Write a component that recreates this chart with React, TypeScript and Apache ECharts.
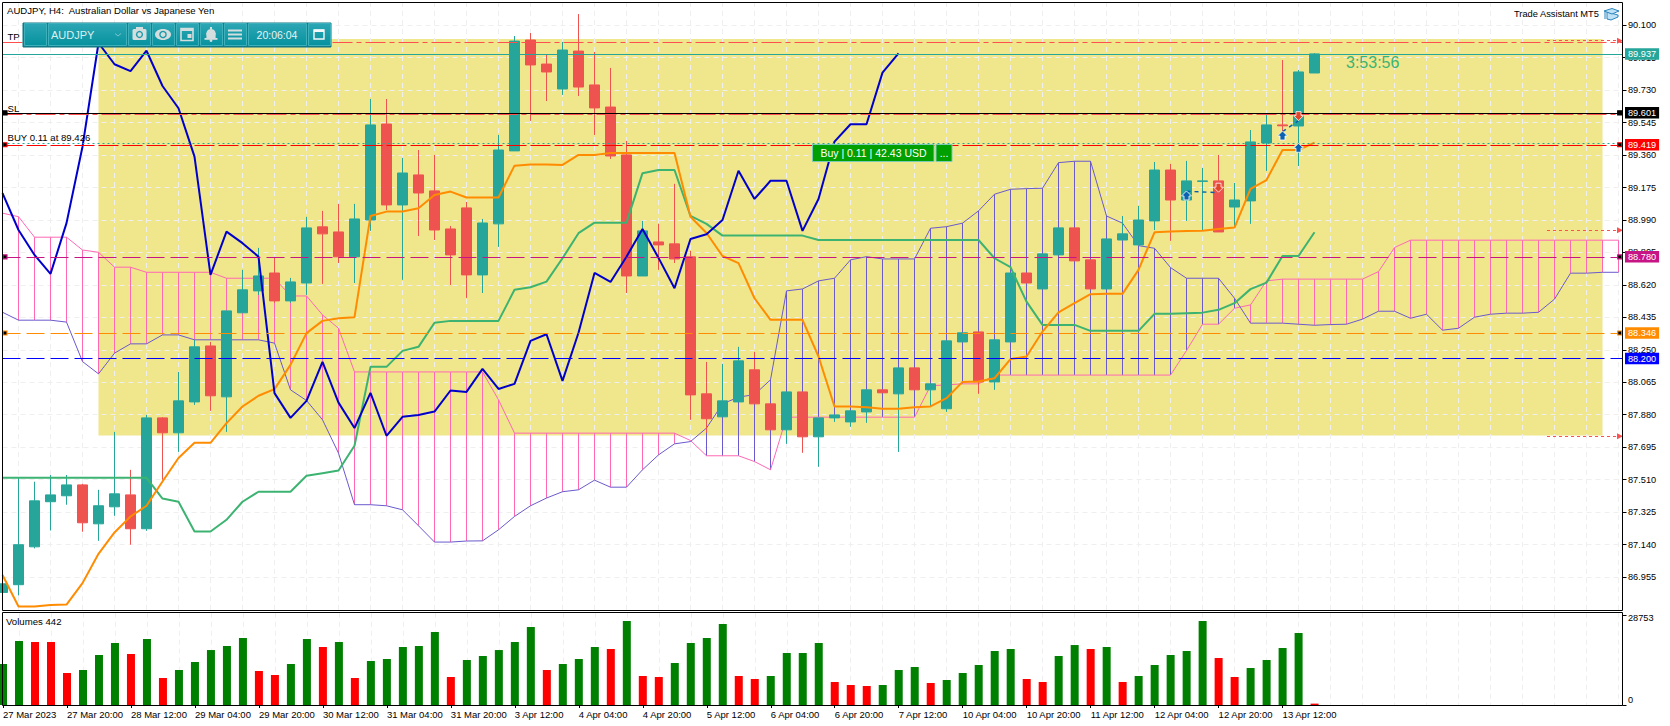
import React, { useEffect, useRef } from "react";
import * as echarts from "echarts";

const FONT = '"Liberation Sans", Arial, sans-serif';
const BARS = 102;

const tickLabels = ["27 Mar 2023","27 Mar 20:00","28 Mar 12:00","29 Mar 04:00","29 Mar 20:00","30 Mar 12:00","31 Mar 04:00","31 Mar 20:00","3 Apr 12:00","4 Apr 04:00","4 Apr 20:00","5 Apr 12:00","6 Apr 04:00","6 Apr 20:00","7 Apr 12:00","10 Apr 04:00","10 Apr 20:00","11 Apr 12:00","12 Apr 04:00","12 Apr 20:00","13 Apr 12:00"];
const priceTicks = [86.955,87.14,87.325,87.51,87.695,87.88,88.065,88.25,88.435,88.62,88.805,88.99,89.175,89.36,89.545,89.73,89.915,90.1];

// open, close, low, high
const candles = [
[86.867,86.916,86.865,86.916],[86.911,87.139,86.85,87.52],[87.127,87.389,87.118,87.498],[87.384,87.423,87.22,87.536],[87.418,87.48,87.367,87.536],
[87.48,87.264,87.213,87.486],[87.258,87.361,87.161,87.452],[87.355,87.429,87.304,87.782],[87.423,87.23,87.139,87.566],[87.23,87.862,87.218,87.879],
[87.862,87.777,87.509,87.866],[87.777,87.959,87.668,88.124],[87.953,88.267,87.936,88.307],[88.272,87.988,87.902,88.295],[87.982,88.472,87.782,88.472],
[88.461,88.592,88.461,88.706],[88.586,88.671,88.563,88.831],[88.688,88.529,88.518,88.78],[88.529,88.637,88.518,88.66],[88.631,88.945,88.563,89.008],
[88.951,88.911,88.626,89.042],[88.922,88.78,88.745,89.082],[88.78,88.996,88.631,89.082],[88.99,89.532,88.928,89.68],[89.537,89.076,89.047,89.68],
[89.076,89.258,88.649,89.344],[89.247,89.144,88.899,89.389],[89.156,88.933,88.876,89.361],[88.939,88.791,88.62,88.956],[89.059,88.677,88.546,89.093],
[88.677,88.973,88.574,88.996],[88.968,89.389,88.837,89.475],[89.384,90.01,89.384,90.039],[90.016,89.874,89.555,90.056],[89.879,89.834,89.668,89.931],
[89.737,89.959,89.703,90.005],[89.953,89.748,89.697,90.164],[89.76,89.629,89.475,89.948],[89.634,89.355,89.338,89.857],[89.361,88.671,88.574,89.441],
[88.671,88.928,88.671,88.985],[88.865,88.848,88.706,88.968],[88.854,88.768,88.745,89.196],[88.78,87.993,87.851,88.814],[87.999,87.857,87.777,88.181],
[87.868,87.959,87.868,88.17],[87.953,88.187,87.953,88.267],[88.136,87.942,87.942,88.238],[87.942,87.794,87.794,87.942],[87.794,88.01,87.714,88.01],
[88.01,87.754,87.663,88.01],[87.754,87.862,87.583,87.862],[87.862,87.879,87.839,87.879],[87.839,87.902,87.811,87.902],[87.896,88.022,87.834,88.022],
[88.022,88.005,88.005,88.022],[87.999,88.147,87.668,88.147],[88.147,88.022,88.022,88.147],[88.022,88.056,87.925,88.056],[87.914,88.301,87.896,88.301],
[88.295,88.347,88.295,88.347],[88.352,88.067,87.999,88.352],[88.067,88.307,88.022,88.307],[88.295,88.688,88.295,88.688],[88.688,88.631,88.631,88.688],
[88.597,88.797,88.597,88.797],[88.791,88.945,88.791,88.945],[88.945,88.757,88.757,88.945],[88.763,88.597,88.597,88.763],[88.597,88.882,88.597,88.882],
[88.876,88.911,88.876,89.013],[88.848,88.99,88.848,89.07],[88.985,89.275,88.933,89.321],[89.275,89.104,88.871,89.31],[89.104,89.213,88.985,89.327],
[89.21,89.213,88.933,89.287],[89.213,88.922,88.922,89.361],[89.064,89.104,88.945,89.201],[89.099,89.435,88.968,89.503],[89.429,89.532,89.27,89.6],
[89.532,89.527,89.48,89.902],[89.526,89.834,89.298,89.845],[89.828,89.937,89.828,89.942],
];

const tenkan = [86.966,86.787,86.787,86.795,86.798,86.92,87.087,87.209,87.3,87.361,87.499,87.633,87.72,87.72,87.832,87.927,87.988,88.026,88.164,88.345,88.415,88.43,88.436,89.013,89.038,89.038,89.057,89.133,89.152,89.118,89.118,89.118,89.3,89.306,89.306,89.304,89.361,89.361,89.372,89.372,89.372,89.372,89.372,89.009,88.916,88.785,88.744,88.544,88.421,88.421,88.421,88.212,87.927,87.927,87.923,87.914,87.914,87.923,87.927,87.974,88.067,88.069,88.088,88.197,88.212,88.354,88.464,88.516,88.567,88.569,88.569,88.706,88.92,88.924,88.928,88.929,88.939,88.947,89.167,89.218,89.389,89.389,89.431];
const kijun = [87.52,87.52,87.52,87.52,87.52,87.52,87.52,87.52,87.52,87.52,87.402,87.384,87.214,87.214,87.281,87.384,87.441,87.441,87.441,87.532,87.547,87.562,87.703,88.153,88.153,88.244,88.267,88.404,88.415,88.415,88.415,88.415,88.592,88.607,88.639,88.772,88.915,88.975,88.975,88.975,89.257,89.275,89.275,89.013,88.968,88.901,88.901,88.901,88.901,88.901,88.901,88.876,88.876,88.876,88.876,88.876,88.876,88.876,88.876,88.876,88.876,88.876,88.772,88.721,88.525,88.392,88.392,88.392,88.358,88.358,88.358,88.358,88.455,88.455,88.459,88.462,88.478,88.516,88.596,88.633,88.785,88.785,88.92];
const chikou = [89.143,88.933,88.791,88.683,88.972,89.408,89.999,89.878,89.839,89.955,89.754,89.627,89.351,88.677,88.924,88.858,88.781,88.003,87.862,87.959,88.181,87.949,87.804,88.005,87.76,87.868,87.878,87.898,88.018,88.01,88.141,88.027,88.056,88.301,88.339,88.073,88.347,88.688,88.637,88.781,88.939,88.774,88.601,88.882,88.909,88.99,89.271,89.11,89.214,89.214,88.928,89.11,89.437,89.536,89.536,89.83,89.94];
const spanA = [89.029,89.009,88.892,88.892,88.892,88.819,88.806,88.721,88.721,88.692,88.692,88.692,88.692,88.692,88.658,88.658,88.658,88.658,88.557,88.557,88.449,88.373,88.124,88.124,88.124,88.124,88.124,88.124,88.124,88.124,88.124,87.965,87.775,87.775,87.775,87.775,87.775,87.775,87.775,87.775,87.775,87.775,87.775,87.733,87.646,87.646,87.646,87.613,87.566,87.866,87.866,87.866,87.866,87.866,87.866,87.866,87.866,87.866,88.045,88.05,88.056,88.056,88.106,88.106,88.106,88.106,88.106,88.106,88.106,88.106,88.106,88.106,88.106,88.106,88.246,88.396,88.396,88.487,88.506,88.643,88.653,88.653,88.653,88.653,88.653,88.653,88.696,88.833,88.875,88.875,88.875,88.875,88.875,88.875,88.875,88.875,88.875,88.875,88.875,88.875,88.875,88.875];
const spanB = [88.464,88.419,88.419,88.419,88.408,88.183,88.113,88.231,88.284,88.284,88.335,88.335,88.307,88.307,88.307,88.307,88.307,88.288,88.022,87.961,87.851,87.661,87.367,87.367,87.361,87.338,87.247,87.154,87.154,87.16,87.161,87.224,87.3,87.361,87.405,87.441,87.452,87.507,87.467,87.467,87.566,87.651,87.714,87.727,87.804,87.942,87.98,87.995,88.079,88.586,88.597,88.643,88.658,88.763,88.781,88.768,88.768,88.768,88.943,88.952,88.972,89.042,89.137,89.165,89.169,89.171,89.317,89.325,89.325,89.013,88.972,88.844,88.829,88.719,88.658,88.658,88.658,88.544,88.402,88.402,88.402,88.396,88.39,88.394,88.396,88.425,88.47,88.47,88.43,88.453,88.362,88.373,88.436,88.453,88.459,88.459,88.464,88.539,88.687,88.687,88.692,88.692];

const volumes = [13200,20600,20280,20280,10300,11270,16100,19960,16420,21250,8690,11270,13840,17700,18990,21570,10950,9660,13200,21250,18670,20280,8690,14160,14810,18670,18990,23500,9010,14490,15770,17700,20280,25110,11270,13200,14810,18670,18030,27040,9340,9010,13520,19960,21570,26075,9340,8370,9340,16740,16740,19960,7400,6440,6120,6440,11270,12230,7080,8050,10300,12880,17380,18030,8370,7400,15770,19310,18030,18670,7400,9340,12880,16100,17380,27040,15130,9010,11910,14490,18350,23180,442];
const volumeDownBars = [2,3,4,8,10,16,17,20,22,28,34,38,40,41,46,47,52,53,54,58,64,65,68,70,76,77,82];

const zoneBars = [6, 100.33];
const zonePrices = [90.022, 87.761];
const tradeUpBars = [73.7, 79.6, 81.1];
const tradeUpPrices = [89.127, 89.469, 89.399];
const tradeDownBars = [76.36, 80.9];
const tradeDownPrices = [89.177, 89.585];
const tradeLinks = [[73.7, 89.154, 76.36, 89.146], [79.6, 89.494, 80.9, 89.556]];

const priceTags = [
  { value: 89.937, text: "89.937", color: "#26A69A", type: "solid", width: 1 },
  { value: 89.601, text: "89.601", color: "#000000", type: "solid", width: 1 },
  { value: 89.419, text: "89.419", color: "#FF0000", type: [20, 4], width: 1 },
  { value: 88.78, text: "88.780", color: "#C71585", type: [18, 6], width: 1 },
  { value: 88.346, text: "88.346", color: "#FF8C00", type: [18, 6], width: 1 },
  { value: 88.2, text: "88.200", color: "#0000FF", type: [18, 6], width: 1 },
];
const orderLines = [
  { value: 90.003, color: "#FF5050", type: [20, 4, 5, 4] },
  { value: 89.593, color: "#FF5050", type: [20, 4, 5, 4] },
  { value: 89.426, color: "#26A69A", type: [2, 3] },
];
const targetArrows = [90.012, 88.932, 87.758];
const squareLevels = [
  { value: 89.601, color: "#000000" },
  { value: 89.419, color: "#FF0000" },
  { value: 88.78, color: "#C71585" },
  { value: 88.346, color: "#FF8C00" },
];

const LEFT = 2.5, RIGHT_AXIS = 1622.5, MAIN_TOP = 2, MAIN_BOTTOM = 610, VOL_TOP = 612.7, VOL_BOTTOM = 705, STEP = 16;
const categories = Array.from({ length: BARS }, (_, i) => (i % 4 === 0 && tickLabels[i / 4]) || String(i));

function txt(text: string, x: number, y: number, size: number, fill = "#000", align = "left", z = 100) {
  return { type: "text", z, silent: true, x, y, style: { text, fill, font: `${size}px ${FONT}`, align, verticalAlign: "middle" } };
}
function toolbarButton(x: number, w: number) {
  return {
    type: "rect", z: 100, silent: true,
    shape: { x: x + 0.5, y: 23.5, width: w, height: 22 },
    style: {
      fill: new echarts.graphic.LinearGradient(0, 0, 0, 1, [{ offset: 0, color: "#2CA6B4" }, { offset: 1, color: "#07929F" }]),
      stroke: "#3DB0BC", lineWidth: 1,
    },
  };
}
function toolbar() {
  const ic = "#D5DEDE";
  const r = (x: number, y: number, w: number, h: number, extra: any = {}) => ({ type: "rect", z: 101, silent: true, shape: { x, y, width: w, height: h, ...(extra.r ? { r: extra.r } : {}) }, style: { fill: extra.fill ?? ic, stroke: extra.stroke, lineWidth: extra.lw } });
  const c = (cx: number, cy: number, rad: number, fill: string) => ({ type: "circle", z: 102, silent: true, shape: { cx, cy, r: rad }, style: { fill } });
  const bg = "#1C9AA8";
  return [
    { type: "rect", z: 99, silent: true, shape: { x: 23, y: 23, width: 308, height: 24 }, style: { fill: "#157F8C", stroke: "#0E7280", lineWidth: 1 } },
    toolbarButton(24, 22), toolbarButton(48, 78), toolbarButton(128, 22), toolbarButton(152, 22), toolbarButton(176, 22), toolbarButton(200, 22), toolbarButton(224, 22), toolbarButton(248, 58), toolbarButton(308, 22),
    txt("AUDJPY", 51, 34.5, 11, "#D9F0F2", "left", 101),
    { type: "polyline", z: 101, silent: true, shape: { points: [[115, 33.5], [118, 36], [121, 33.5]] }, style: { stroke: "#7CC6CE", lineWidth: 1, fill: "none" } },
    r(132.5, 29, 14, 11, { r: 1.5 }), r(136, 27, 7, 3), c(139.5, 34.5, 3.6, bg), c(139.5, 34.5, 2.2, ic),
    { type: "ellipse", z: 101, silent: true, shape: { cx: 163, cy: 34.5, rx: 8, ry: 5.5 }, style: { fill: ic } }, c(163, 34.5, 3.8, bg), c(163, 34.5, 2.4, ic),
    r(181, 28.5, 12, 12, { fill: "none", stroke: ic, lw: 1.6 }), r(181, 28, 12, 3), r(187.5, 34, 4, 4),
    c(211, 33.5, 4.6, ic), r(206.4, 33, 9.2, 5), r(204.5, 38, 13, 1.8), c(211, 40.5, 1.4, ic), r(210, 27, 2, 2.5),
    r(228, 29.5, 14, 2), r(228, 33.5, 14, 2), r(228, 37.5, 14, 2),
    txt("20:06:04", 277, 34.5, 10.5, "#E4F4F5", "center", 101),
    r(314, 30, 10, 9, { fill: "none", stroke: "#F2F8F8", lw: 1.4 }), r(314, 29.5, 10, 2.5, { fill: "#F2F8F8" }),
  ];
}
function buyBox() {
  return [
    { type: "rect", z: 100, silent: true, shape: { x: 812.5, y: 144.5, width: 121.5, height: 17 }, style: { fill: "#00A000", stroke: "#7CCBB6", lineWidth: 1 } },
    txt("Buy | 0.11 | 42.43 USD", 873.5, 153.3, 10.5, "#FFFFFF", "center"),
    { type: "rect", z: 100, silent: true, shape: { x: 936, y: 144.5, width: 16, height: 17 }, style: { fill: "#00A000", stroke: "#7CCBB6", lineWidth: 1 } },
    txt("...", 944, 153, 10.5, "#FFFFFF", "center"),
  ];
}
function capIcon() {
  const s = "#2A86BE", f = "#BFE2F6";
  return [
    { type: "polygon", z: 100, silent: true, shape: { points: [[1607, 12], [1618, 15], [1618, 17], [1611, 20], [1607, 19]] }, style: { fill: f, stroke: s, lineWidth: 1 } },
    { type: "polygon", z: 100, silent: true, shape: { points: [[1604, 11], [1612, 8.5], [1619, 11], [1612, 14]] }, style: { fill: f, stroke: s, lineWidth: 1 } },
    { type: "line", z: 100, silent: true, shape: { x1: 1605, y1: 11.5, x2: 1605, y2: 19 }, style: { stroke: s, lineWidth: 1 } },
  ];
}

export default function App() {
  const ref = useRef<HTMLDivElement>(null);
  useEffect(() => {
    const chart = echarts.init(ref.current!, undefined, { renderer: "svg", width: 1670, height: 726 });
    const gridLine = { show: true, lineStyle: { color: "#EFEFEF", width: 1, type: [5, 4] as any } };
    const arrowPoly = (x: number, y: number, up: boolean) => {
      const d = up ? 1 : -1;
      return [[x, y - 5 * d], [x + 5, y], [x + 2.5, y], [x + 2.5, y + 4 * d], [x - 2.5, y + 4 * d], [x - 2.5, y], [x - 5, y]];
    };
    const levelData: any[] = [
      ...orderLines.map((l) => [
        { x: LEFT, yAxis: l.value, symbol: "none", lineStyle: { color: l.color, type: l.type, width: 1 }, label: { show: false } },
        { x: RIGHT_AXIS, yAxis: l.value, symbol: "none" },
      ]),
      ...targetArrows.map((v) => [
        { x: 1547, yAxis: v, symbol: "none", lineStyle: { color: "#FF5050", type: [3, 3], width: 1 }, label: { show: false } },
        { x: 1620, yAxis: v, symbol: "triangle", symbolSize: 6 },
      ]),
      ...priceTags.map((t) => [
        {
          x: LEFT, yAxis: t.value, symbol: "none", lineStyle: { color: t.color, type: t.type, width: t.width },
          label: { show: true, position: "end", distance: 2.5, formatter: t.text, color: "#fff", backgroundColor: t.color, fontSize: 9.2, fontFamily: FONT, padding: [1, 3, 1, 3], lineHeight: 9.5 },
        },
        { x: RIGHT_AXIS, yAxis: t.value, symbol: "none" },
      ]),
    ];
    const squareData: any[] = [];
    squareLevels.forEach((s) => {
      const style = { color: "#000", borderColor: s.color, borderWidth: 1.2 };
      squareData.push({ x: 5, yAxis: s.value, symbol: "rect", symbolSize: 4, itemStyle: style, label: { show: false } });
      squareData.push({ x: 1619.7, yAxis: s.value, symbol: "rect", symbolSize: 4, itemStyle: style, label: { show: false } });
    });

    chart.setOption({
      animation: false,
      backgroundColor: "#FFFFFF",
      textStyle: { fontFamily: FONT },
      grid: [
        { left: LEFT, top: MAIN_TOP, width: STEP * (BARS - 1), height: MAIN_BOTTOM - MAIN_TOP },
        { left: LEFT, top: VOL_TOP, width: STEP * (BARS - 1), height: VOL_BOTTOM - VOL_TOP },
      ],
      xAxis: [
        {
          gridIndex: 0, type: "category", data: categories, boundaryGap: false,
          axisLine: { show: false }, axisTick: { show: false }, axisLabel: { show: false },
          splitLine: { ...gridLine, interval: (i: number) => i % 2 === 1 },
        },
        {
          gridIndex: 1, type: "category", data: categories, boundaryGap: false,
          axisLine: { show: false },
          axisTick: { show: true, length: 3, interval: (i: number) => i % 4 === 0 && i <= 80, lineStyle: { color: "#000" } },
          axisLabel: { show: true, interval: (i: number) => i % 4 === 0 && i <= 80, align: "left", margin: 4, color: "#000", fontSize: 9.5, fontFamily: FONT, hideOverlap: false },
          splitLine: { ...gridLine, interval: (i: number) => i % 2 === 1 },
        },
      ],
      yAxis: [
        {
          gridIndex: 0, type: "value", position: "right", offset: 4, min: 86.7668, max: 90.2328,
          axisLine: { show: false },
          axisTick: { show: true, length: 4, customValues: priceTicks, lineStyle: { color: "#000" } },
          axisLabel: { show: true, customValues: priceTicks, formatter: (v: number) => v.toFixed(3), margin: 5.5, color: "#000", fontSize: 9.2, fontFamily: FONT, showMinLabel: true, showMaxLabel: true },
          splitLine: gridLine,
        },
        {
          gridIndex: 1, type: "value", position: "right", offset: 4, min: 0, max: 29720,
          axisLine: { show: false },
          axisTick: { show: true, length: 4, customValues: [0, 28753], lineStyle: { color: "#000" } },
          axisLabel: {
            show: true, customValues: [0, 28753], margin: 5.5, color: "#000", fontSize: 9.2, fontFamily: FONT,
            formatter: (v: number) => (v === 0 ? "{z|0}" : "{m|28753}"),
            rich: { z: { padding: [0, 0, 11, 0], fontSize: 9.2, fontFamily: FONT }, m: { padding: [5, 0, 0, 0], fontSize: 9.2, fontFamily: FONT } },
          },
          splitLine: { show: false },
        },
      ],
      series: [
        {
          name: "zone", type: "custom", xAxisIndex: 0, yAxisIndex: 0, z: -1, silent: true, clip: true,
          data: [0],
          renderItem: (_p: any, api: any) => {
            const a = api.coord([zoneBars[0], zonePrices[0]]);
            const b = api.coord([zoneBars[1], zonePrices[1]]);
            return { type: "rect", shape: { x: a[0], y: a[1], width: b[0] - a[0], height: b[1] - a[1] }, style: { fill: "#F0E68C" } };
          },
        },
        {
          name: "cloud", type: "custom", xAxisIndex: 0, yAxisIndex: 0, z: 2, silent: true, clip: true,
          data: spanA.map((_, i) => i),
          renderItem: (p: any, api: any) => {
            const i = p.dataIndex;
            const a = api.coord([i, spanA[i]]);
            const b = api.coord([i, spanB[i]]);
            return { type: "line", shape: { x1: a[0], y1: a[1], x2: b[0], y2: b[1] }, style: { stroke: spanA[i] > spanB[i] ? "#FF69B4" : "#6A5ACD", lineWidth: 1 } };
          },
        },
        { name: "Senkou A", type: "line", data: spanA, symbol: "none", z: 2, silent: true, lineStyle: { color: "#FF69B4", width: 1 } },
        { name: "Senkou B", type: "line", data: spanB, symbol: "none", z: 2, silent: true, lineStyle: { color: "#6A5ACD", width: 1 } },
        {
          name: "AUDJPY", type: "candlestick", data: candles, barWidth: 11, z: 3, silent: true, clip: true,
          itemStyle: { color: "#26A69A", color0: "#EF5350", borderColor: "#26A69A", borderColor0: "#EF5350", borderWidth: 1 },
        },
        { name: "Kijun", type: "line", data: kijun, symbol: "none", z: 4, silent: true, lineStyle: { color: "#3CB371", width: 2 } },
        { name: "Tenkan", type: "line", data: tenkan, symbol: "none", z: 4, silent: true, lineStyle: { color: "#FF8C00", width: 2 } },
        { name: "Chikou", type: "line", data: chikou, symbol: "none", z: 4, silent: true, lineStyle: { color: "#0000CD", width: 2 } },
        {
          name: "levels", type: "line", data: [], symbol: "none", z: 5, silent: true,
          markLine: { silent: true, animation: false, symbol: "none", data: levelData },
          markPoint: { silent: true, animation: false, data: squareData },
        },
        {
          name: "trades", type: "custom", xAxisIndex: 0, yAxisIndex: 0, z: 6, silent: true, clip: false,
          data: [0],
          renderItem: (_p: any, api: any) => {
            const children: any[] = [];
            tradeLinks.forEach((l) => {
              const a = api.coord([l[0], l[1]]);
              const b = api.coord([l[2], l[3]]);
              children.push({ type: "line", shape: { x1: a[0], y1: a[1], x2: b[0], y2: b[1] }, style: { stroke: "#0060B0", lineWidth: 1.4, lineDash: [4, 4] } });
            });
            tradeUpBars.forEach((x, k) => {
              const c = api.coord([x, tradeUpPrices[k]]);
              children.push({ type: "polygon", shape: { points: arrowPoly(c[0], c[1], true) }, style: { fill: "#0A62B0", stroke: "#FFFFFF", lineWidth: 0.8 } });
            });
            tradeDownBars.forEach((x, k) => {
              const c = api.coord([x, tradeDownPrices[k]]);
              children.push({ type: "polygon", shape: { points: arrowPoly(c[0], c[1], false) }, style: { fill: "#E2452A", stroke: "#FFFFFF", lineWidth: 0.8 } });
            });
            return { type: "group", children };
          },
        },
        {
          name: "Volumes", type: "bar", xAxisIndex: 1, yAxisIndex: 1, barWidth: 8, silent: true, clip: true,
          data: volumes.map((v, i) => ({ value: v, itemStyle: { color: volumeDownBars.includes(i) ? "#FF0000" : "#008000" } })),
        },
      ],
      graphic: [
        { type: "rect", z: 50, silent: true, shape: { x: LEFT, y: 2.5, width: RIGHT_AXIS - LEFT, height: 608 }, style: { fill: "none", stroke: "#000", lineWidth: 1 } },
        { type: "rect", z: 50, silent: true, shape: { x: LEFT, y: 612.5, width: RIGHT_AXIS - LEFT, height: 93 }, style: { fill: "none", stroke: "#000", lineWidth: 1 } },
        txt("AUDJPY, H4:  Australian Dollar vs Japanese Yen", 7, 10, 9.6),
        txt("TP", 7.5, 36.7, 9.6),
        txt("SL", 7.5, 108.7, 9.6),
        txt("BUY 0.11 at 89.426", 7.5, 137.7, 9.6),
        txt("Volumes 442", 6, 621.7, 9.6),
        txt("Trade Assistant MT5", 1514, 13.5, 9.3),
        txt("3:53:56", 1346, 62.5, 16, "#3CB371"),
        ...capIcon(),
        ...toolbar(),
        ...buyBox(),
      ],
    });
    return () => chart.dispose();
  }, []);
  return <div ref={ref} style={{ position: "absolute", left: 0, top: 0, width: 1670, height: 726, background: "#fff" }} />;
}
